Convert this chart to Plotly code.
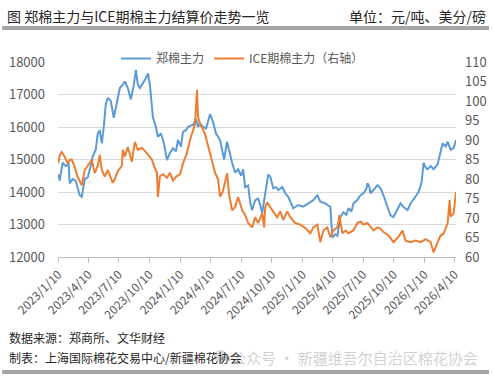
import plotly.graph_objects as go

# 郑棉主力 (元/吨)
zc_dates = ["2023-01-10","2023-01-14","2023-01-23","2023-02-01","2023-02-10","2023-02-13","2023-02-22","2023-03-03","2023-03-15","2023-03-21",
 "2023-03-30","2023-04-08","2023-04-17","2023-04-23","2023-05-02","2023-05-08","2023-05-14","2023-05-20","2023-05-26","2023-06-01",
 "2023-06-07","2023-06-16","2023-06-25","2023-07-04","2023-07-13","2023-07-22","2023-07-28","2023-08-06","2023-08-15","2023-08-24",
 "2023-08-30","2023-09-05","2023-09-11","2023-09-20","2023-09-29","2023-10-05","2023-10-11","2023-10-20","2023-10-29","2023-11-04",
 "2023-11-13","2023-11-22","2023-12-01","2023-12-10","2023-12-19","2023-12-28","2024-01-03","2024-01-12","2024-01-18","2024-01-27",
 "2024-02-02","2024-02-11","2024-02-17","2024-02-26","2024-03-03","2024-03-09","2024-03-18","2024-03-27","2024-04-08","2024-04-17",
 "2024-04-26","2024-05-08","2024-05-14","2024-05-20","2024-05-29","2024-06-04","2024-06-13","2024-06-22","2024-07-01","2024-07-10",
 "2024-07-16","2024-07-22","2024-07-31","2024-08-06","2024-08-12","2024-08-21","2024-08-30","2024-09-05","2024-09-11","2024-09-20",
 "2024-09-29","2024-10-05","2024-10-14","2024-10-23","2024-10-29","2024-11-10","2024-11-19","2024-11-28","2024-12-07","2024-12-13",
 "2024-12-28","2025-01-12","2025-01-27","2025-02-11","2025-02-23","2025-03-04","2025-03-19","2025-04-03","2025-04-09","2025-04-18",
 "2025-04-24","2025-05-03","2025-05-12","2025-05-21","2025-05-27","2025-06-05","2025-06-11","2025-06-23","2025-07-02","2025-07-11",
 "2025-07-20","2025-07-23","2025-07-29","2025-08-01","2025-08-10","2025-08-22","2025-08-31","2025-09-09","2025-09-21","2025-09-30",
 "2025-10-09","2025-10-21","2025-10-30","2025-11-08","2025-11-20","2025-11-29","2025-12-14","2025-12-23","2026-01-01","2026-01-07",
 "2026-01-13","2026-01-19","2026-01-28","2026-02-06","2026-02-18","2026-02-27","2026-03-05","2026-03-14","2026-03-20","2026-03-29",
 "2026-04-07","2026-04-14"]
zc_values = [14550,14350,14900,14800,14850,14260,14400,14350,13900,13850,
 14400,14450,14800,15100,15300,15800,15900,15500,16000,16700,
 16900,16800,16280,16700,17200,17300,17400,17200,16850,17300,
 17760,17300,17200,17350,17500,17650,17300,16300,16000,15700,
 15800,15500,14980,15200,15350,15250,15600,15400,15850,15900,
 16000,16050,16060,16250,16000,16120,16000,15950,16400,16150,
 15800,15600,15300,15000,15550,15250,14900,14600,14700,14500,
 14700,14150,14200,13700,13440,13750,13800,13600,13350,13960,
 14520,14480,14120,14150,14060,14150,13960,13850,13650,13500,
 13600,13550,13650,13750,13900,13700,13650,13540,12600,12700,
 12650,13230,13380,13300,13500,13400,13650,13750,13900,13960,
 14100,14270,14150,13960,14060,14210,14120,13900,13540,13280,
 13230,13500,13650,13540,13440,13650,13850,14000,14300,14900,
 14750,14700,14800,14700,14850,15290,15500,15400,15550,15300,
 15350,15600]

# ICE期棉主力 (美分/磅)
ice_dates = ["2023-01-10","2023-01-14","2023-01-20","2023-01-29","2023-02-07","2023-02-13","2023-02-19","2023-02-28","2023-03-09","2023-03-21",
 "2023-03-30","2023-04-08","2023-04-20","2023-04-29","2023-05-08","2023-05-14","2023-05-20","2023-05-29","2023-06-07","2023-06-13",
 "2023-06-22","2023-06-28","2023-07-07","2023-07-19","2023-07-22","2023-07-28","2023-08-06","2023-08-18","2023-08-27","2023-09-05",
 "2023-09-17","2023-09-26","2023-10-05","2023-10-17","2023-10-23","2023-11-01","2023-11-04","2023-11-10","2023-11-19","2023-12-01",
 "2023-12-10","2023-12-19","2023-12-31","2024-01-09","2024-01-18","2024-01-30","2024-02-08","2024-02-17","2024-02-23","2024-02-29",
 "2024-03-03","2024-03-09","2024-03-15","2024-03-24","2024-04-02","2024-04-14","2024-04-23","2024-05-02","2024-05-08","2024-05-17",
 "2024-05-29","2024-06-04","2024-06-13","2024-06-22","2024-07-01","2024-07-13","2024-07-22","2024-07-31","2024-08-12","2024-08-21",
 "2024-08-30","2024-09-11","2024-09-17","2024-09-20","2024-09-26","2024-10-05","2024-10-14","2024-10-26","2024-11-04","2024-11-13",
 "2024-11-25","2024-12-04","2024-12-19","2025-01-03","2025-01-18","2025-02-02","2025-02-11","2025-02-23","2025-03-04","2025-03-13",
 "2025-03-25","2025-04-03","2025-04-12","2025-04-24","2025-04-30","2025-05-09","2025-05-18","2025-05-27","2025-06-11","2025-06-23",
 "2025-07-02","2025-07-11","2025-07-23","2025-08-01","2025-08-10","2025-08-22","2025-08-31","2025-09-09","2025-09-24","2025-10-09",
 "2025-10-24","2025-11-05","2025-11-14","2025-11-29","2025-12-14","2025-12-29","2026-01-13","2026-01-28","2026-02-06","2026-02-18",
 "2026-02-27","2026-03-08","2026-03-20","2026-03-26","2026-03-29","2026-04-07","2026-04-14"]
ice_values = [84.1,86.0,86.9,85.7,84.0,84.9,85.0,83.1,80.5,78.4,
 82.3,83.4,84.9,81.5,83.4,86.2,82.3,80.6,82.3,81.0,
 79.0,80.0,82.0,83.4,87.5,85.8,88.2,84.4,89.5,87.5,
 88.0,87.2,86.3,85.0,83.4,81.6,75.4,80.7,81.2,80.3,
 81.6,79.6,80.8,81.2,84.0,86.7,90.0,92.6,94.0,102.9,
 96.0,94.0,93.2,91.5,88.5,84.9,81.6,79.9,75.4,77.0,
 81.5,76.0,72.0,72.8,75.4,72.0,70.8,68.7,67.6,70.2,
 68.7,71.2,67.6,72.8,74.0,72.8,71.7,70.2,71.7,69.5,
 71.7,70.2,68.7,68.3,67.4,66.1,67.6,68.3,63.8,66.8,
 67.6,65.1,66.8,67.6,70.7,66.1,66.8,66.1,66.8,68.7,
 69.1,68.3,68.7,67.6,66.8,67.6,67.2,66.4,65.5,63.8,
 65.2,66.8,64.2,63.8,64.2,63.8,64.6,63.8,61.2,63.8,
 65.5,66.0,68.7,74.6,70.4,71.2,76.7]

tick_dates = ["2023-01-10","2023-04-10","2023-07-10","2023-10-10","2024-01-10","2024-04-10","2024-07-10",
              "2024-10-10","2025-01-10","2025-04-10","2025-07-10","2025-10-10","2026-01-10","2026-04-10"]
tick_labels = ["2023/1/10","2023/4/10","2023/7/10","2023/10/10","2024/1/10","2024/4/10","2024/7/10",
               "2024/10/10","2025/1/10","2025/4/10","2025/7/10","2025/10/10","2026/1/10","2026/4/10"]
left_ticks = [12000, 13000, 14000, 15000, 16000, 17000, 18000]
left_labels = ["12000", "13000", "14000", "15000", "16000", "17000", "18000"]
right_ticks = [60, 65, 70, 75, 80, 85, 90, 95, 100, 105, 110]

FONT = "Noto Sans CJK SC"
GREY = "#595959"

fig = go.Figure()
fig.add_trace(go.Scatter(x=zc_dates, y=zc_values, name="郑棉主力", mode="lines",
                         line=dict(color="#5B9BD5", width=2)))
fig.add_trace(go.Scatter(x=ice_dates, y=ice_values, name="ICE期棉主力（右轴）", mode="lines",
                         line=dict(color="#ED7D31", width=2), yaxis="y2"))

W, H = 494, 378
L, R, T, B = 58, 456, 62, 257
def px(x):
    return (x - L) / (R - L)
def py(y):
    return (B - y) / (B - T)

fig.update_layout(
    width=W, height=H,
    margin=dict(l=L, r=W - R, t=T, b=H - B, autoexpand=False),
    paper_bgcolor="white", plot_bgcolor="white",
    font=dict(family=FONT, size=12, color=GREY),
    showlegend=True,
    legend=dict(orientation="h", x=px(116), y=py(44), xanchor="left", yanchor="top",
                font=dict(size=12, color=GREY), bgcolor="rgba(0,0,0,0)", tracegroupgap=0),
    xaxis=dict(type="date", range=["2023-01-09", "2026-04-14"],
               tickvals=tick_dates, ticktext=tick_labels, tickangle=-45,
               ticks="outside", ticklen=5, tickcolor="#BFBFBF",
               showline=True, linecolor="#BFBFBF", linewidth=1,
               showgrid=False, zeroline=False,
               tickfont=dict(size=12, color=GREY)),
    yaxis=dict(range=[12000, 18000], tickvals=left_ticks, ticktext=left_labels, showgrid=True,
               gridcolor="#D9D9D9", gridwidth=1, zeroline=False, showline=False,
               tickfont=dict(size=13, color=GREY), ticklabelstandoff=12),
    yaxis2=dict(range=[60, 110], tickvals=right_ticks, overlaying="y", side="right",
                showgrid=False, zeroline=False, showline=False,
                tickfont=dict(size=13, color=GREY), ticklabelstandoff=8),
)

annotations = [
    dict(text="图 郑棉主力与ICE期棉主力结算价走势一览", x=px(5), y=py(16), xanchor="left", yanchor="middle",
         font=dict(size=14, color="#262626")),
    dict(text="单位：元/吨、美分/磅", x=px(488), y=py(16), xanchor="right", yanchor="middle",
         font=dict(size=14, color="#262626")),
    dict(text="数据来源：郑商所、文华财经", x=px(7), y=py(337), xanchor="left", yanchor="middle",
         font=dict(size=12, color="#262626")),
    dict(text="制表：上海国际棉花交易中心/新疆棉花协会", x=px(7), y=py(357), xanchor="left", yanchor="middle",
         font=dict(size=12, color="#262626")),
    dict(text="公众号 · 新疆维吾尔自治区棉花协会", x=px(229), y=py(357), xanchor="left", yanchor="middle",
         font=dict(size=15, color="rgba(170,170,170,0.55)")),
]
for a in annotations:
    a.update(xref="paper", yref="paper", showarrow=False)
fig.update_layout(annotations=annotations)

fig.add_shape(type="line", xref="paper", yref="paper", x0=px(2), x1=px(489), y0=py(28), y1=py(28),
              line=dict(color="#A6A6A6", width=4))
fig.add_shape(type="line", xref="paper", yref="paper", x0=px(2), x1=px(489), y0=py(372), y1=py(372),
              line=dict(color="#A6A6A6", width=4))
fig.add_shape(type="circle", xref="paper", yref="paper", x0=px(214), x1=px(227), y0=py(350), y1=py(363),
              fillcolor="rgba(170,170,170,0.45)", line=dict(width=0))

fig.write_html("out.html", config={"displayModeBar": False},
               post_script="document.body.style.margin='0';")
